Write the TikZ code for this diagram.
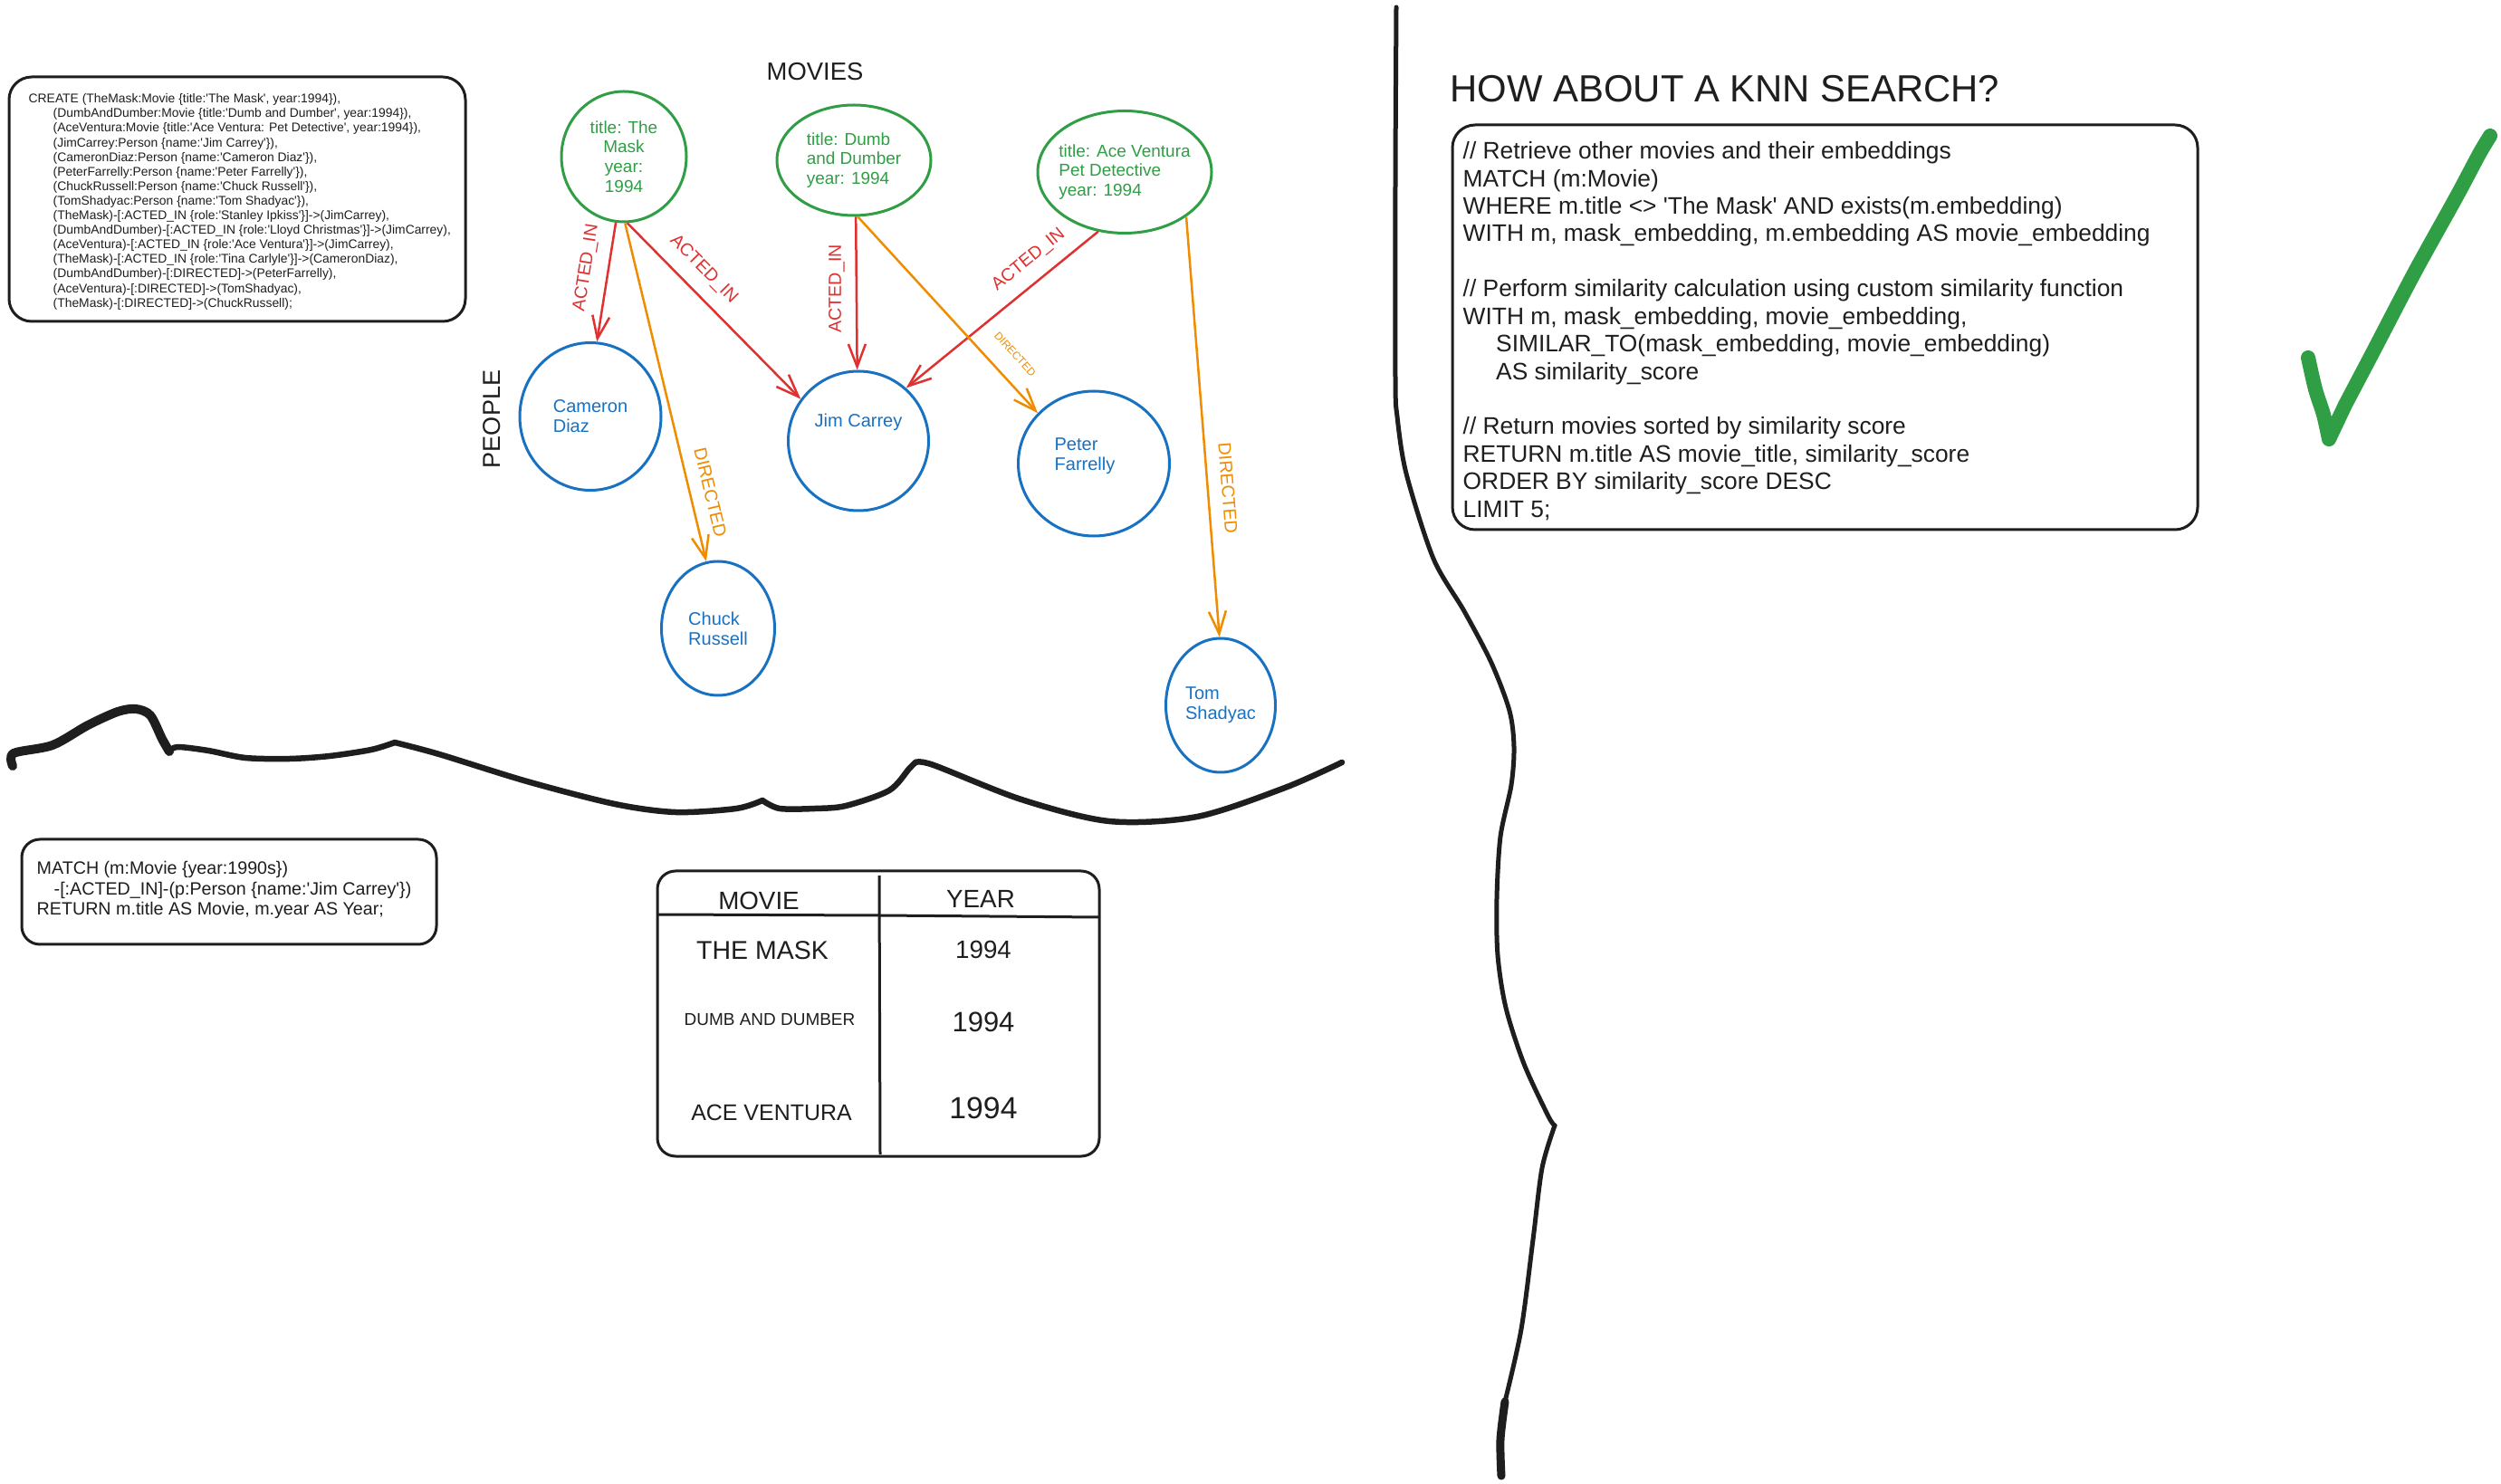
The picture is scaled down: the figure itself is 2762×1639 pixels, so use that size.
\documentclass[tikz,border=0pt]{standalone}
\usepackage{fontspec}
\setmainfont{Liberation Sans}[Ligatures=TeXOff]
\definecolor{exc-green}{RGB}{47,158,68}
\definecolor{exc-blue}{RGB}{25,113,194}
\definecolor{exc-red}{RGB}{224,49,49}
\definecolor{exc-orange}{RGB}{240,140,0}
\definecolor{exc-ink}{RGB}{30,30,30}
\usetikzlibrary{shapes.geometric, arrows.meta}

\begin{document}
\begin{tikzpicture}[x=0.1mm, y=-0.1mm,
    filme/.style={ellipse, draw=exc-green, line width=0.3mm, text=exc-green, inner sep=0pt,
        font=\fontsize{5.4pt}{6.2pt}\selectfont},
    pessoa/.style={ellipse, draw=exc-blue, line width=0.3mm, text=exc-blue, inner sep=0pt,
        align=left, font=\fontsize{5.7pt}{6.3pt}\selectfont},
    atuou/.style={exc-red, line width=0.25mm, -{Straight Barb[length=2.5mm, width=1.9mm]}},
    dirigiu/.style={exc-orange, line width=0.25mm, -{Straight Barb[length=2.5mm, width=1.9mm]}},
    rotulo/.style={font=\fontsize{5.6pt}{5.6pt}\selectfont, inner sep=0pt, sloped, above=1.4mm},
    caixa/.style={draw=exc-ink, line width=0.3mm, rounded corners=2.5mm},
    codigo/.style={anchor=north west, inner sep=0pt, align=left, text=exc-ink},
    traco/.style={exc-ink, line width=0.65mm, line cap=round, line join=round}
]
    \fill[white] (0,0) rectangle (2762,1639);
    \useasboundingbox (0,0) rectangle (2762,1639);

    % Codigo CREATE
    \draw[caixa] (10,85) rectangle (514,355);
    \node[codigo, font=\fontsize{3.95pt}{4.58pt}\selectfont] (create) at (31,103) {CREATE (TheMask:Movie \{title:'The Mask', year:1994\}),\\
        \hspace*{2.7mm}(DumbAndDumber:Movie \{title:'Dumb and Dumber', year:1994\}),\\
        \hspace*{2.7mm}(AceVentura:Movie \{title:'Ace Ventura: Pet Detective', year:1994\}),\\
        \hspace*{2.7mm}(JimCarrey:Person \{name:'Jim Carrey'\}),\\
        \hspace*{2.7mm}(CameronDiaz:Person \{name:'Cameron Diaz'\}),\\
        \hspace*{2.7mm}(PeterFarrelly:Person \{name:'Peter Farrelly'\}),\\
        \hspace*{2.7mm}(ChuckRussell:Person \{name:'Chuck Russell'\}),\\
        \hspace*{2.7mm}(TomShadyac:Person \{name:'Tom Shadyac'\}),\\
        \hspace*{2.7mm}(TheMask)-[:ACTED\_IN \{role:'Stanley Ipkiss'\}]->(JimCarrey),\\
        \hspace*{2.7mm}(DumbAndDumber)-[:ACTED\_IN \{role:'Lloyd Christmas'\}]->(JimCarrey),\\
        \hspace*{2.7mm}(AceVentura)-[:ACTED\_IN \{role:'Ace Ventura'\}]->(JimCarrey),\\
        \hspace*{2.7mm}(TheMask)-[:ACTED\_IN \{role:'Tina Carlyle'\}]->(CameronDiaz),\\
        \hspace*{2.7mm}(DumbAndDumber)-[:DIRECTED]->(PeterFarrelly),\\
        \hspace*{2.7mm}(AceVentura)-[:DIRECTED]->(TomShadyac),\\
        \hspace*{2.7mm}(TheMask)-[:DIRECTED]->(ChuckRussell);};

    % Titulos do grafo
    \node[font=\fontsize{7.8pt}{7.8pt}\selectfont, text=exc-ink] (movies) at (900,79) {MOVIES};
    \node[font=\fontsize{7.7pt}{7.7pt}\selectfont, text=exc-ink, rotate=90] (people) at (543,463) {PEOPLE};

    % Filmes
    \node[filme, align=center, minimum width=13.8mm, minimum height=14.4mm] (mask) at (689,173) {title: The\\Mask\\year:\\1994};
    \node[filme, align=left, minimum width=17mm, minimum height=12.2mm] (dumb) at (943,177) {title: Dumb\\and Dumber\\year: 1994};
    \node[filme, align=left, inner xsep=-1.2mm, minimum width=19.2mm, minimum height=13.5mm] (ace) at (1242,190) {title: Ace Ventura\\Pet Detective\\year: 1994};

    % Pessoas
    \node[pessoa, minimum width=15.6mm, minimum height=16.3mm] (diaz) at (652,460) {Cameron\\Diaz};
    \node[pessoa, minimum width=15.5mm, minimum height=15.4mm, text depth=4.6mm] (jim) at (948,487) {Jim Carrey};
    \node[pessoa, minimum width=16.7mm, minimum height=16mm, text depth=2mm] (peter) at (1208,512) {Peter\\Farrelly\hspace*{2mm}};
    \node[pessoa, minimum width=12.5mm, minimum height=14.8mm] (chuck) at (793,694) {Chuck\\Russell};
    \node[pessoa, minimum width=12.1mm, minimum height=14.8mm] (tom) at (1348,779) {Tom\\Shadyac};

    % Relacoes ACTED_IN
    \draw[atuou] (mask.-97) -- node[rotulo, pos=0.41] (lbl1) {ACTED\_IN} (diaz.85);
    \draw[atuou] (mask.-87) -- node[rotulo, pos=0.35] (lbl2) {ACTED\_IN} (jim.144);
    \draw[atuou] (dumb.-88) -- node[font=\fontsize{5.6pt}{5.6pt}\selectfont, inner sep=0pt, pos=0.47, xshift=-2.2mm, rotate=90] (lbl3) {ACTED\_IN} (jim.91);
    \draw[atuou] (ace.-114) -- node[rotulo, pos=0.29] (lbl4) {ACTED\_IN} (jim.48);

    % Relacoes DIRECTED
    \draw[dirigiu] (mask.-89) -- node[rotulo, pos=0.81] (lbl5) {DIRECTED} (chuck.100);
    \draw[dirigiu] (dumb.-86) -- node[rotulo, pos=0.78, font=\fontsize{3.4pt}{3.4pt}\selectfont, above=0.6mm] (lbl6) {DIRECTED} (peter.138);
    \draw[dirigiu] (ace.-36) -- node[rotulo, pos=0.65] (lbl7) {DIRECTED} (tom.91);

    % Linha ondulada
    \draw[traco, line width=1mm] plot[smooth] coordinates {(14,846) (15,832) (58,823) (97,801) (130,786) (150,783) (166,790) (179,816) (187,830)};
    \draw[traco] plot[smooth] coordinates {(187,830) (196,825) (230,829) (271,837) (320,838) (364,835) (410,828) (436,820)};
    \draw[traco] plot[smooth] coordinates {(436,820) (485,833) (582,863) (679,888) (746,897) (813,893) (842,884)};
    \draw[traco] plot[smooth] coordinates {(842,884) (861,893) (900,893) (934,890) (982,873) (1004,849) (1011,842)};
    \draw[traco] plot[smooth] coordinates {(1011,842) (1031,845) (1128,883) (1225,907) (1322,902) (1419,870) (1482,842)};

    % Consulta MATCH
    \draw[caixa, rounded corners=2mm] (24,927) rectangle (482,1043);
    \node[codigo, font=\fontsize{5.6pt}{6.4pt}\selectfont] (match) at (40,951) {MATCH (m:Movie \{year:1990s\})\\
        \hspace*{1.9mm}-[:ACTED\_IN]-(p:Person \{name:'Jim Carrey'\})\\
        RETURN m.title AS Movie, m.year AS Year;};

    % Tabela de resultado
    \draw[caixa, rounded corners=2mm] (726,962) rectangle (1214,1277);
    \draw[exc-ink, line width=0.3mm] (971,967) -- (972,1275);
    \draw[exc-ink, line width=0.3mm] (727,1010) -- (971,1011) -- (1214,1013);
    \node[font=\fontsize{7.9pt}{7.9pt}\selectfont, text=exc-ink] (tmovie) at (838,995) {MOVIE};
    \node[font=\fontsize{7.9pt}{7.9pt}\selectfont, text=exc-ink] (tyear) at (1083,993) {YEAR};
    \foreach \i/\titulo/\xt/\yt/\ft/\ya/\fa in {1/THE MASK/842/1050/8.1pt/1049/7.9pt,
                                             2/DUMB AND DUMBER/850/1126/5.4pt/1129/8.8pt,
                                             3/ACE VENTURA/852/1229/7.1pt/1224/9.6pt} {
        \node[font=\fontsize{\ft}{\ft}\selectfont, text=exc-ink] (titulo\i) at (\xt,\yt) {\titulo};
        \node[font=\fontsize{\fa}{\fa}\selectfont, text=exc-ink] (ano\i) at (1086,\ya) {1994};
    }

    % Separador vertical
    \draw[traco, line width=0.5mm] plot[smooth] coordinates {(1542,8) (1541,200) (1541,418) (1543,460) (1553,523) (1583,617) (1617,675) (1647,732) (1667,785) (1672,825) (1669,867) (1657,924) (1653,992) (1654,1055) (1663,1113) (1683,1175) (1710,1233) (1717,1243)};
    \draw[traco, line width=0.5mm] plot[smooth] coordinates {(1717,1243) (1703,1290) (1693,1369) (1680,1468) (1662,1548)};
    \draw[traco, line width=0.9mm] plot[smooth] coordinates {(1662,1548) (1657,1590) (1658,1630)};

    % KNN
    \node[anchor=west, inner sep=0pt, text=exc-ink, font=\fontsize{11.9pt}{11.9pt}\selectfont] (knn) at (1601,98) {HOW ABOUT A KNN SEARCH?};
    \draw[caixa] (1604,138) rectangle (2427,585);
    \node[codigo, font=\fontsize{7.5pt}{8.65pt}\selectfont] (knncode) at (1615,156) {// Retrieve other movies and their embeddings\\
        MATCH (m:Movie)\\
        WHERE m.title <> 'The Mask' AND exists(m.embedding)\\
        WITH m, mask\_embedding, m.embedding AS movie\_embedding\\[8.65pt]
        // Perform similarity calculation using custom similarity function\\
        WITH m, mask\_embedding, movie\_embedding,\\
        \hspace*{3.65mm}SIMILAR\_TO(mask\_embedding, movie\_embedding)\\
        \hspace*{3.65mm}AS similarity\_score\\[8.65pt]
        // Return movies sorted by similarity score\\
        RETURN m.title AS movie\_title, similarity\_score\\
        ORDER BY similarity\_score DESC\\
        LIMIT 5;};

    % Visto
    \draw[exc-green, line width=1.6mm, line cap=round, line join=round]
        plot[smooth] coordinates {(2549,395) (2557,430) (2566,458) (2572,485)}
        -- plot[smooth] coordinates {(2590,447) (2620,390) (2667,300) (2713,217) (2738,170) (2750,150)};
\end{tikzpicture}
\end{document}
